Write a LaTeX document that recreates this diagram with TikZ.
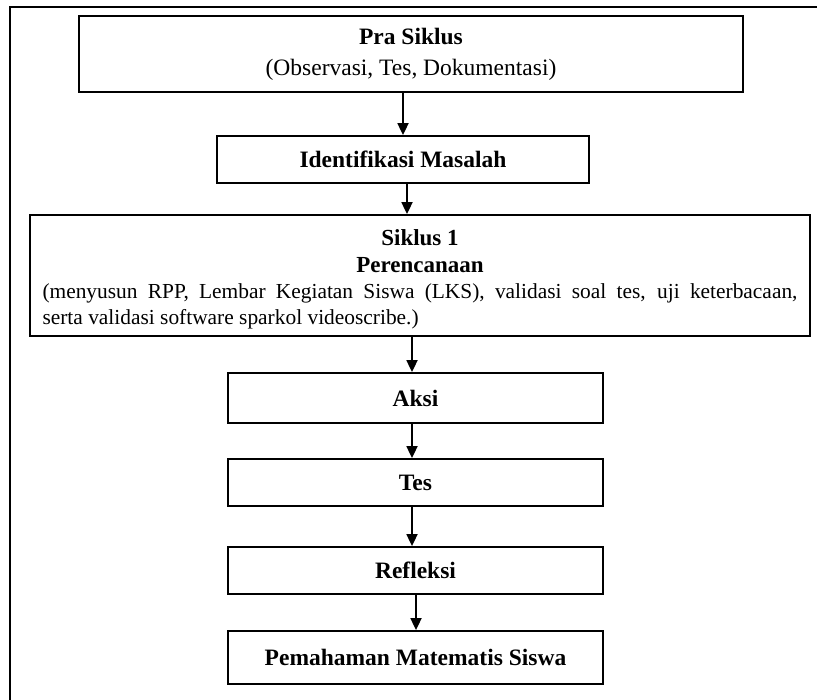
\documentclass[tikz,border=0pt]{standalone}
\usepackage{fontspec}
\setmainfont{Liberation Serif}
\usetikzlibrary{arrows.meta}
\tikzset{
  box/.style={draw, line width=1.8pt, rectangle, inner sep=0pt, align=center},
  big/.style={font=\fontsize{23.5}{31}\selectfont},
  arr/.style={line width=1.8pt, -{Triangle[width=11pt,length=12pt]}},
  frameline/.style={line width=1.8pt}
}
\begin{document}
\begin{tikzpicture}[x=1pt,y=-1pt]
\useasboundingbox (0,0) rectangle (817,700);
\draw[frameline] (10,700) -- (10,7) -- (817,7);
\node[box, big, minimum width=664pt, minimum height=76pt] (pra) at (411,54)
  {\textbf{Pra Siklus}\\(Observasi, Tes, Dokumentasi)};
\node[box, big, minimum width=372pt, minimum height=47pt] (ident) at (403,159.5)
  {\textbf{Identifikasi Masalah}};
\node[box, minimum width=780pt, minimum height=121pt] (siklus) at (420,275.5)
  {\begin{minipage}{755pt}
   \vspace{8pt}
   {\centering\fontsize{23}{27}\selectfont\bfseries Siklus 1\\Perencanaan\par}
   \fontsize{21.4}{26}\selectfont (menyusun RPP, Lembar Kegiatan Siswa (LKS), validasi soal tes, uji keterbacaan,\linebreak serta validasi software sparkol videoscribe.)
   \end{minipage}};
\node[box, big, minimum width=375pt, minimum height=50pt] (aksi) at (415.5,398)
  {\textbf{Aksi}};
\node[box, big, minimum width=375pt, minimum height=47pt] (tes) at (415.5,482.5)
  {\textbf{Tes}};
\node[box, big, minimum width=375pt, minimum height=47pt] (refl) at (415.5,570.5)
  {\textbf{Refleksi}};
\node[box, big, minimum width=375pt, minimum height=53pt] (pem) at (415.5,657.5)
  {\textbf{Pemahaman Matematis Siswa}};
\draw[arr] ([xshift=-8pt]pra.south) -- ([xshift=0pt]ident.north);
\draw[arr] ([xshift=4pt]ident.south) -- ([xshift=-13pt]siklus.north);
\draw[arr] ([xshift=-8pt]siklus.south) -- ([xshift=-3.5pt]aksi.north);
\draw[arr] ([xshift=-3.5pt]aksi.south) -- ([xshift=-3.5pt]tes.north);
\draw[arr] ([xshift=-3.5pt]tes.south) -- ([xshift=-3.5pt]refl.north);
\draw[arr] ([xshift=0.5pt]refl.south) -- ([xshift=0.5pt]pem.north);
\end{tikzpicture}
\end{document}
